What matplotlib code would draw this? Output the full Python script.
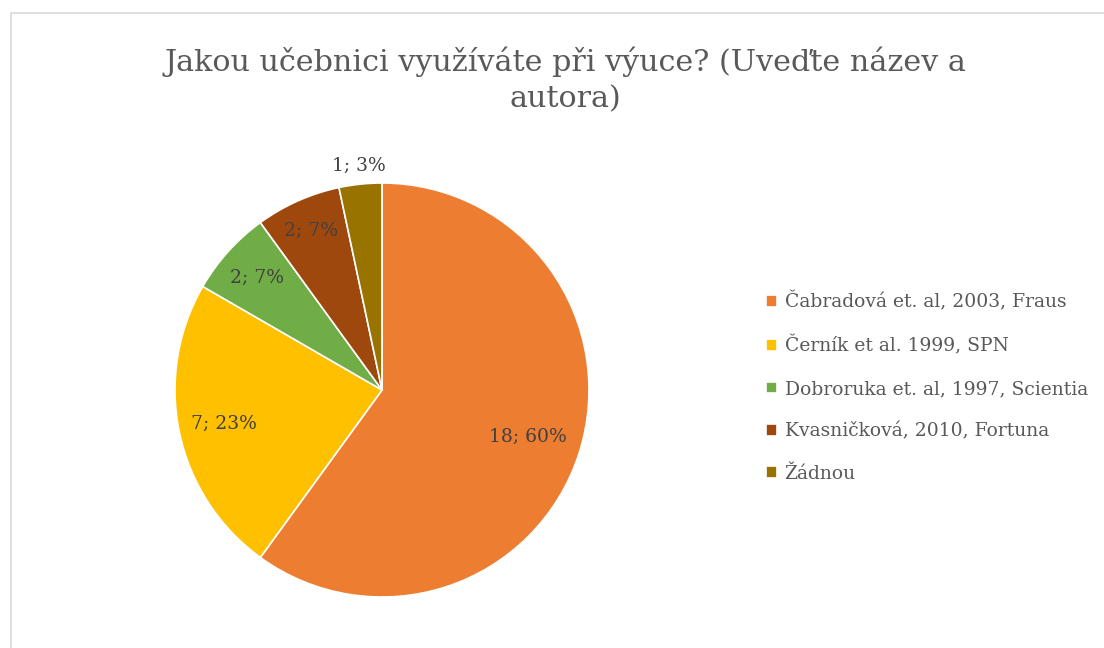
import matplotlib
matplotlib.use('Agg')
import numpy as np
import matplotlib.pyplot as plt
from matplotlib.patches import Rectangle

title = 'Jakou učebnici využíváte při výuce? (Uveďte název a\nautora)'
categories = ['Čabradová et. al, 2003, Fraus', 'Černík et al. 1999, SPN',
              'Dobroruka et. al, 1997, Scientia', 'Kvasničková, 2010, Fortuna',
              'Žádnou']
counts = [18, 7, 2, 2, 1]
percents = [60, 23, 7, 7, 3]
colors = ['#ED7D31', '#FFC000', '#70AD47', '#9E480E', '#997300']

plt.rcParams['font.family'] = ['DejaVu Serif']

fig = plt.figure(figsize=(11.04, 6.48), dpi=100)
W, H = 1104, 648

# light frame round the chart area
fig.add_artist(Rectangle((11 / W, 1 - 660 / H), 1100 / W, 647 / H,
                         transform=fig.transFigure, fill=False,
                         edgecolor='#D9D9D9', linewidth=1.2))

fig.text(565 / W, 1 - 80 / H, title, ha='center', va='center',
         fontsize=21.7, color='#595959', linespacing=1.4)

ax = fig.add_axes([175 / W, 1 - 597 / H, 414 / W, 414 / H])
wedges, _ = ax.pie(counts, colors=colors, startangle=90, counterclock=False,
                   wedgeprops=dict(edgecolor='white', linewidth=1.2))
ax.set_xlim(-1, 1)
ax.set_ylim(-1, 1)

# label distance per slice, like Excel's best fit
dist = [0.74, 0.78, 0.81, 0.84, 1.09]
for w, c, p, d in zip(wedges, counts, percents, dist):
    ang = np.deg2rad((w.theta1 + w.theta2) / 2)
    ax.text(d * np.cos(ang), d * np.sin(ang), f'{c}; {p}%', ha='center',
            va='center', fontsize=13.5, color='#404040')

fig.legend(wedges, categories, loc='center left',
           bbox_to_anchor=(749 / W, 1 - 387 / H), frameon=False,
           fontsize=13.5, handlelength=0.6, handleheight=0.6,
           handletextpad=0.4, labelspacing=1.3, labelcolor='#595959')

fig.savefig('out.png', dpi=100)
